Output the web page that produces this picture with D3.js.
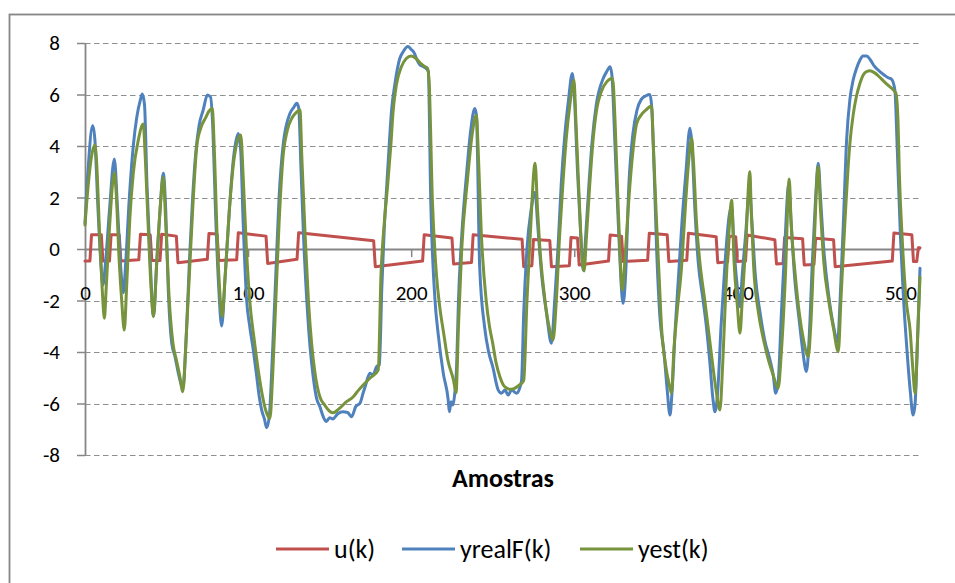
<!DOCTYPE html>
<html>
<head>
<meta charset="utf-8">
<script src="https://cdn.jsdelivr.net/npm/d3@7"></script>
<style>
  html, body { margin: 0; padding: 0; background: #fff; }
  svg { display: block; font-family: Calibri, Carlito, Lato, "Open Sans", sans-serif; }
</style>
</head>
<body>
<svg id="chart" width="955" height="583"></svg>
<script>
// Sample index range and axis ticks
const sampleRange = [0, 512];
const xTicks = [0, 100, 200, 300, 400, 500];
const yTicks = [-8, -6, -4, -2, 0, 2, 4, 6, 8];
const seriesNames = ["u(k)", "yrealF(k)", "yest(k)"];
const seriesColors = ["#C0504D", "#4F81BD", "#77933C"];
const xTitle = "Amostras";

// u(k): excitation signal, [sample, value]
const uPoints = [
  [0,-0.47],[3,-0.47],[4,0.55],[10,0.55],[11,-0.47],[15,-0.47],[16,0.55],[21,0.55],[22,-0.47],
  [33,-0.42],[34,0.57],[40,0.55],[41,-0.45],[46,-0.45],[47,0.57],[56,0.5],[57,-0.53],[75,-0.4],
  [76,0.6],[81,0.58],[82,-0.45],[93,-0.42],[94,0.63],[111,0.5],[112,-0.56],[130,-0.4],[131,0.63],
  [177,0.32],[178,-0.69],[207,-0.47],[208,0.55],[225,0.43],[226,-0.58],[237,-0.52],[238,0.55],
  [268,0.38],[269,-0.69],[274,-0.65],[275,0.37],[285,0.33],[286,-0.69],[297,-0.65],[298,0.45],
  [302,0.43],[303,-0.62],[321,-0.47],[322,0.54],[329,0.5],[330,-0.49],[345,-0.44],[346,0.61],
  [357,0.55],[358,-0.49],[369,-0.44],[370,0.61],[387,0.48],[388,-0.53],[394,-0.5],[395,0.5],
  [399,0.48],[400,-0.49],[405,-0.47],[406,0.54],[423,0.36],[424,-0.58],[428,-0.56],[429,0.45],
  [440,0.4],[441,-0.62],[447,-0.6],[448,0.42],[459,0.36],[460,-0.69],[495,-0.47],[496,0.62],
  [507,0.55],[508,-0.49],[510,-0.49],[511,0.05],[512,0.05]
];

// yrealF(k): measured (filtered) output, [sample, value]
const yrealPoints = [
  [0,1.0],[2,3.2],[4.7,4.8],[6,4.3],[8,1.5],[10,-0.8],[11,-1.4],[12.5,-0.6],[15,1.5],[18,3.5],
  [20,1.5],[22,-0.8],[23.5,-1.7],[25,-0.5],[27,1.8],[29.6,4.0],[31.7,5.1],[34,5.8],[35.1,6.02],
  [36.5,5.6],[38,2.5],[40,-0.5],[42,-2.6],[44,-0.5],[46,1.5],[48,2.94],[49.5,1.5],[51,-1.5],
  [53.2,-3.66],[55.2,-4.18],[57.5,-4.9],[60,-5.4],[62,-3.5],[64,-0.5],[66,2.0],[68,3.8],[70,4.82],
  [72.5,5.4],[75,5.98],[77,5.9],[78.5,4.5],[80,1.5],[82,-1.5],[83.8,-2.99],[86,-1.0],[88.5,1.5],
  [91,3.5],[94,4.49],[95.5,3.8],[97,1.0],[99.1,-1.98],[101,-3.0],[103.2,-3.92],[105,-4.8],
  [107,-5.8],[108.3,-6.25],[110,-6.6],[111.4,-6.94],[113,-6.5],[115,-4.0],[117,-1.0],[119,2.0],
  [121.6,4.1],[125.7,5.27],[128,5.5],[129.8,5.66],[131,5.5],[132.5,3.0],[134,0.5],[136,-2.0],
  [138,-3.8],[140,-5.0],[142,-5.8],[144,-6.12],[146,-6.5],[148,-6.7],[150,-6.55],[152,-6.6],
  [155,-6.4],[158,-6.32],[161,-6.35],[163.5,-6.51],[166,-6.12],[168.6,-5.99],[170.5,-5.6],
  [172,-5.3],[174.7,-4.83],[176.5,-4.89],[178.8,-4.57],[180.5,-4.5],[182,-1.5],[183.5,0.8],
  [185,2.42],[186.5,4.0],[188,5.4],[190,6.4],[193,7.4],[195,7.65],[198,7.86],[200,7.75],
  [202,7.6],[203.5,7.35],[205.4,7.15],[207,7.1],[209,7.02],[210.5,6.9],[212,1.9],[214.6,-1.98],
  [216.5,-3.27],[219.7,-4.83],[222.7,-5.86],[223.4,-6.32],[224.5,-5.93],[225.5,-6.06],
  [226.5,-5.74],[227.9,-4.5],[229,-2.0],[231,0.5],[234,2.94],[236.5,4.6],[239,5.46],[240,5.2],
  [242,-0.69],[245,-3.02],[247.5,-4.0],[250,-4.57],[253.4,-5.48],[255.4,-5.6],[257.5,-5.48],
  [259.5,-5.67],[261.5,-5.48],[264.7,-5.6],[266.5,-5.41],[267.7,-5.09],[269,-2.5],[271,0.0],
  [273.5,1.5],[276,2.2],[277.5,1.0],[280,-1.0],[283,-2.5],[286,-3.66],[288,-2.0],[290,0.0],
  [292,2.5],[294.3,4.49],[296.5,5.8],[298.8,6.82],[300,6.0],[302,3.0],[304,0.5],[305.5,-0.82],
  [307,0.5],[309,2.5],[311,4.2],[313.5,5.6],[317.8,6.63],[320,6.9],[321.9,7.08],[323,6.8],
  [325,4.0],[327,1.0],[330,-2.11],[331.5,-1.0],[333.5,2.5],[336,4.49],[338.5,5.4],[341,5.8],
  [344,5.95],[346.4,6.0],[347.5,5.5],[349,3.0],[350.5,0.0],[352.5,-2.63],[355,-4.0],[357,-5.48],
  [358.7,-6.45],[360,-5.5],[362,-3.0],[364,-1.0],[366,1.0],[368.5,3.0],[370.9,4.69],[372,4.2],
  [374,1.5],[376,-0.5],[379,-1.98],[381,-3.0],[383,-4.3],[385,-5.8],[386.3,-6.32],[388,-5.5],
  [390,-3.0],[392.5,-0.5],[395,1.3],[396.5,1.7],[398,0.0],[400,-1.5],[401.6,-2.24],[403,-1.0],
  [405,0.5],[407.5,2.3],[409,1.0],[411,-1.0],[414,-2.5],[417,-3.6],[420,-4.3],[422,-4.89],
  [423.5,-5.6],[425,-5.2],[427,-2.5],[429,0.0],[431.5,2.5],[433,1.0],[435,-1.0],[438,-2.8],
  [440,-3.9],[442.4,-4.76],[444,-3.5],[446,-0.5],[448,2.0],[449.6,3.33],[451,2.0],[453,0.0],
  [456,-1.8],[459,-3.0],[461.5,-3.6],[463,-2.0],[465,1.0],[467,4.23],[469,5.8],[471,6.56],
  [473,7.0],[475.2,7.34],[477,7.5],[479.3,7.5],[481.5,7.35],[484,7.1],[487.4,6.89],[490,6.76],
  [492.5,6.65],[494.6,6.59],[496.6,6.17],[498,4.0],[500,0.5],[501.7,-1.72],[504,-3.92],
  [506,-5.5],[507.8,-6.45],[509,-6.0],[510.5,-3.5],[512,-0.75]
];

// yest(k): model estimate, [sample, value]
const yestPoints = [
  [0,0.93],[2,2.5],[4,3.6],[6.1,4.04],[7,3.5],[9,0.5],[10.5,-1.5],[11.9,-2.69],[13,-1.5],[15,0.8],
  [18,2.96],[19,2.3],[21,-0.5],[22.5,-2.0],[24.1,-3.15],[25.5,-1.5],[27.5,1.2],[29.6,2.94],
  [32.7,4.23],[35.7,4.85],[37,3.5],[39,0.5],[40.5,-1.5],[42,-2.63],[44,-0.5],[46,1.5],[48,2.8],
  [49.5,1.0],[51.5,-1.8],[54,-3.7],[56,-4.3],[58,-4.9],[60,-5.54],[62,-3.5],[64,-1.0],[66,1.5],
  [68.5,3.97],[71,4.7],[74,5.1],[76,5.35],[78,5.46],[79.5,3.5],[81,0.5],[82.5,-1.5],[84,-2.63],
  [86,-1.0],[88.5,1.5],[91,3.3],[93.5,4.2],[95.5,4.43],[97,2.8],[99,0.0],[101,-2.0],[103.5,-3.4],
  [106,-4.6],[108.5,-5.6],[111,-6.3],[113.4,-6.58],[115,-5.0],[117,-2.0],[119,1.0],[121.6,3.7],
  [124,4.6],[127,5.1],[129.5,5.3],[131.8,5.4],[133,3.5],[135,0.5],[137,-2.0],[139,-3.7],
  [141,-4.8],[144,-5.74],[147,-6.06],[150,-6.3],[152.2,-6.36],[156,-6.19],[160,-5.95],
  [164.5,-5.74],[167.5,-5.5],[170.6,-5.28],[175,-5.0],[179.8,-4.7],[181.5,-1.0],[183.5,1.0],
  [185.5,2.42],[187.5,4.0],[189,5.4],[191,6.4],[194,7.08],[197,7.4],[200,7.5],[203,7.4],
  [206,7.2],[208,7.1],[210,7.02],[211,6.5],[213,1.9],[215.5,-1.0],[217.5,-2.24],[220,-3.3],
  [222.5,-4.31],[226,-5.1],[227.5,-5.58],[229,-3.0],[231,0.0],[234.5,2.68],[237.5,4.5],[240,5.2],
  [241,4.0],[243,0.61],[246,-2.0],[248,-3.0],[250,-3.66],[252,-4.4],[254.4,-4.96],[256.5,-5.28],
  [258.5,-5.4],[260.6,-5.45],[263,-5.42],[266,-5.3],[269,-5.11],[271,-2.0],[273,0.5],[276,3.33],
  [277.5,1.5],[279,-0.04],[282,-1.98],[285,-3.15],[287,-3.53],[289,-2.0],[291,0.5],[293,2.5],
  [295,4.23],[297.5,5.7],[299.8,6.56],[301,5.0],[303,2.0],[305,-0.5],[306,-0.85],[307.5,0.5],
  [309.5,2.5],[311.5,4.2],[313.7,5.4],[316.5,6.1],[320,6.5],[323.5,6.63],[325,5.0],[327,1.5],
  [329.6,-1.59],[331,-0.5],[333,1.5],[335.5,3.5],[338.3,4.88],[341,5.2],[344,5.4],[347.4,5.55],
  [348.5,4.0],[350.5,1.0],[352,-1.0],[353.5,-3.02],[356,-4.5],[358,-5.2],[359.7,-5.6],[361,-4.0],
  [363,-2.5],[365.8,-0.69],[368,1.5],[370,3.3],[372,4.3],[373,3.5],[375,1.0],[377,-0.5],
  [380,-1.98],[382,-3.0],[384.5,-4.3],[387,-5.5],[389.3,-6.25],[391,-4.5],[393,-1.5],[395,0.8],
  [396.5,1.9],[398,-0.5],[400,-2.2],[401.6,-3.27],[403,-2.0],[405,0.0],[407.7,3.0],[408.5,1.5],
  [410,-0.69],[413,-2.5],[416,-3.5],[419,-4.3],[422,-4.9],[425,-5.41],[427,-4.0],[429.5,-1.0],
  [431.8,2.72],[433,1.0],[435.5,-1.0],[438,-2.5],[440.5,-3.5],[443.5,-4.18],[445,-3.0],[447,0.0],
  [449.6,3.2],[451,1.5],[453,-0.5],[456,-2.0],[459,-3.1],[461.9,-3.99],[463.5,-2.0],[465.5,0.5],
  [469,4.1],[471,5.2],[473,5.92],[475,6.4],[477.2,6.76],[479.5,6.9],[481.3,6.92],[484,6.85],
  [487,6.69],[490,6.5],[493.5,6.3],[497.2,6.05],[498.5,5.0],[499.3,3.0],[501,0.5],[503.5,-1.98],
  [506,-3.2],[507.5,-4.57],[509,-5.6],[510.5,-3.5],[512,-1.1]
];

const svg = d3.select("#chart");
const plot = { left: 85, right: 920, top: 43, bottom: 455 };
const axisColor = "#868686";
const tickFontSize = 21;
const labelFontSize = 26;

const x = d3.scaleLinear().domain(sampleRange).range([plot.left, plot.right]);
const y = d3.scaleLinear().domain([-8, 8]).range([plot.bottom, plot.top]);

// Chart frame
svg.append("rect")
  .attr("x", 9.5).attr("y", 14.5)
  .attr("width", 1000).attr("height", 1000)
  .attr("fill", "#fff")
  .attr("stroke", axisColor).attr("stroke-width", 1.8);

// Dashed horizontal gridlines
svg.append("g").selectAll("line")
  .data(yTicks.filter(d => d !== 0))
  .join("line")
  .attr("x1", plot.left).attr("x2", plot.right)
  .attr("y1", d => Math.round(y(d)) + 0.5).attr("y2", d => Math.round(y(d)) + 0.5)
  .attr("stroke", "#8f8f8f").attr("stroke-width", 1.2)
  .attr("stroke-dasharray", "5.5,3.5");

// Vertical axis
const yAxis = svg.append("g")
  .attr("transform", `translate(${plot.left},0)`)
  .call(d3.axisLeft(y).tickValues(yTicks).tickFormat(d => String(d))
    .tickSize(8).tickPadding(17).tickSizeOuter(0));
yAxis.attr("font-family", null);
yAxis.select(".domain").attr("stroke", axisColor).attr("stroke-width", 1.8);
yAxis.selectAll(".tick line").attr("stroke", axisColor).attr("stroke-width", 1.5);
yAxis.selectAll(".tick text").attr("font-size", tickFontSize).attr("fill", "#000");

// Horizontal axis crossing at zero
const xAxis = svg.append("g")
  .attr("transform", `translate(0,${y(0)})`)
  .call(d3.axisBottom(x).tickValues(xTicks).tickFormat(d => String(d))
    .tickSize(8).tickSizeOuter(0));
xAxis.attr("font-family", null);
xAxis.select(".domain").attr("stroke", axisColor).attr("stroke-width", 1.8);
xAxis.selectAll(".tick line").attr("stroke", axisColor).attr("stroke-width", 1.5);
xAxis.selectAll(".tick text")
  .attr("y", 51).attr("dy", 0)
  .attr("font-size", tickFontSize).attr("fill", "#000");

// Series lines
const stepLine = d3.line().x(d => x(d[0])).y(d => y(d[1]));
const smoothLine = d3.line().x(d => x(d[0])).y(d => y(d[1])).curve(d3.curveMonotoneX);

const lines = svg.append("g").attr("fill", "none")
  .attr("stroke-width", 3).attr("stroke-linejoin", "round").attr("stroke-linecap", "round");
lines.append("path").attr("d", stepLine(uPoints)).attr("stroke", seriesColors[0]);
lines.append("path").attr("d", smoothLine(yrealPoints)).attr("stroke", seriesColors[1]);
lines.append("path").attr("d", smoothLine(yestPoints)).attr("stroke", seriesColors[2]);

// Axis title
svg.append("text")
  .attr("x", 503).attr("y", 487)
  .attr("text-anchor", "middle")
  .attr("font-size", labelFontSize).attr("font-weight", "bold")
  .text(xTitle);

// Legend
const legendX = [276, 402, 580];
const legend = svg.append("g").selectAll("g")
  .data(seriesNames)
  .join("g")
  .attr("transform", (d, i) => `translate(${legendX[i]},549)`);
legend.append("line")
  .attr("x1", 0).attr("x2", 53)
  .attr("stroke", (d, i) => seriesColors[i]).attr("stroke-width", 3);
legend.append("text")
  .attr("x", 58).attr("dy", "0.35em")
  .attr("font-size", labelFontSize)
  .text(d => d);
</script>
</body>
</html>
